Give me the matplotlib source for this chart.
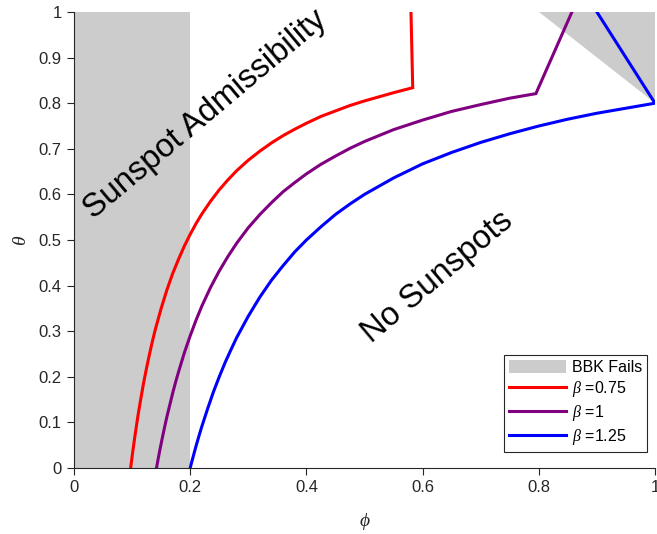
import matplotlib
matplotlib.use("Agg")
import matplotlib.pyplot as plt
from matplotlib.patches import Patch

plt.rcParams['font.family'] = ['Liberation Sans', 'DejaVu Sans']
plt.rcParams['mathtext.fontset'] = 'custom'
plt.rcParams['mathtext.it'] = 'Liberation Serif:italic'
plt.rcParams['mathtext.rm'] = 'Liberation Serif'

# Data
phi_red = [0.0975, 0.100, 0.103, 0.106, 0.11, 0.115, 0.12, 0.125, 0.13, 0.135,
           0.14, 0.15, 0.16, 0.17, 0.18, 0.19, 0.20, 0.21, 0.22, 0.235, 0.25,
           0.265, 0.28, 0.30, 0.32, 0.34, 0.36, 0.38, 0.40, 0.425, 0.45, 0.475,
           0.50, 0.525, 0.55, 0.583, 0.580]
theta_red = [0.0, 0.025, 0.053, 0.080, 0.114, 0.152, 0.188, 0.22, 0.25, 0.278,
             0.304, 0.35, 0.391, 0.427, 0.458, 0.487, 0.5125, 0.536, 0.557, 0.585,
             0.61, 0.632, 0.652, 0.675, 0.695, 0.713, 0.729, 0.743, 0.756, 0.771,
             0.783, 0.795, 0.805, 0.814, 0.823, 0.834, 1.0]

phi_purple = [0.142, 0.145, 0.148, 0.152, 0.156, 0.16, 0.165, 0.17, 0.175, 0.18,
              0.19, 0.20, 0.21, 0.22, 0.235, 0.25, 0.265, 0.28, 0.30, 0.32, 0.34,
              0.36, 0.38, 0.40, 0.425, 0.45, 0.475, 0.50, 0.55, 0.60, 0.65, 0.70,
              0.75, 0.795, 0.857]
theta_purple = [0.0, 0.021, 0.041, 0.066, 0.090, 0.113, 0.139, 0.165, 0.189, 0.211,
                0.253, 0.29, 0.324, 0.355, 0.396, 0.432, 0.464, 0.493, 0.527, 0.556,
                0.582, 0.606, 0.626, 0.645, 0.666, 0.684, 0.701, 0.716, 0.742,
                0.763, 0.782, 0.797, 0.811, 0.821, 1.0]

phi_blue = [0.20, 0.203, 0.206, 0.21, 0.215, 0.22, 0.23, 0.24, 0.25, 0.26, 0.27,
            0.28, 0.30, 0.32, 0.34, 0.36, 0.38, 0.40, 0.425, 0.45, 0.475, 0.50,
            0.55, 0.60, 0.65, 0.70, 0.75, 0.80, 0.85, 0.90, 0.95, 1.00, 0.90]
theta_blue = [0.0, 0.015, 0.029, 0.048, 0.070, 0.091, 0.130, 0.167, 0.2, 0.231,
              0.259, 0.286, 0.333, 0.375, 0.412, 0.444, 0.474, 0.5, 0.529, 0.556,
              0.579, 0.6, 0.636, 0.667, 0.692, 0.714, 0.733, 0.75, 0.765, 0.778,
              0.789, 0.8, 1.0]

fail_rect_x = [0.0, 0.2, 0.2, 0.0]
fail_rect_y = [0.0, 0.0, 1.0, 1.0]
fail_tri_x = [0.8, 1.0, 1.0]
fail_tri_y = [1.0, 1.0, 0.8]

labels = [r'$\beta$ =0.75', r'$\beta$ =1', r'$\beta$ =1.25']
colors = ['#ff0000', '#800080', '#0000ff']

fig = plt.figure(figsize=(6.57, 5.34), dpi=100)
ax = fig.add_axes([74/657, 1-468/534, 581/657, 456/534])

gray = '#cccccc'
ax.fill(fail_rect_x, fail_rect_y, color=gray, lw=0, zorder=1)
ax.fill(fail_tri_x, fail_tri_y, color=gray, lw=0, zorder=1)

lines = []
for (px, py), lab, c in zip([(phi_red, theta_red), (phi_purple, theta_purple),
                             (phi_blue, theta_blue)], labels, colors):
    l, = ax.plot(px, py, color=c, lw=2.2, label=lab, zorder=3,
                 solid_joinstyle='miter')
    lines.append(l)

ax.set_xlim(0, 1)
ax.set_ylim(0, 1)
ax.set_xticks([0, 0.2, 0.4, 0.6, 0.8, 1])
ax.set_xticklabels(['0', '0.2', '0.4', '0.6', '0.8', '1'])
ax.set_yticks([i/10 for i in range(11)])
ax.set_yticklabels(['0'] + [f'0.{i}' for i in range(1, 10)] + ['1'])

dark = '#262626'
for s in ['top', 'right']:
    ax.spines[s].set_visible(False)
for s in ['left', 'bottom']:
    ax.spines[s].set_color(dark)
    ax.spines[s].set_linewidth(0.8)
    ax.spines[s].set_zorder(4)
ax.tick_params(direction='out', length=5, width=0.8, colors=dark,
               labelsize=12, labelcolor=dark, pad=4)

ax.set_xlabel(r'$\phi$', fontsize=14, color=dark, labelpad=11)
ax.set_ylabel(r'$\theta$', fontsize=14, color=dark, labelpad=6)

ax.text(0.226, 0.776, 'Sunspot Admissibility', fontsize=23.5, rotation=40,
        ha='center', va='center', rotation_mode='anchor', color='black', zorder=5)
ax.text(0.625, 0.419, 'No Sunspots', fontsize=23.5, rotation=40,
        ha='center', va='center', rotation_mode='anchor', color='black', zorder=5)

handles = [Patch(facecolor=gray, edgecolor='none', label='BBK Fails')] + lines
leg = ax.legend(handles=handles, loc='lower right', bbox_to_anchor=(0.986, 0.035),
                borderaxespad=0, fontsize=11.5, fancybox=False, framealpha=1,
                edgecolor=dark, handlelength=3.6, handletextpad=0.35,
                labelspacing=0.25, borderpad=0.3, handleheight=0.85)
leg.get_frame().set_linewidth(0.8)
leg.set_zorder(6)

fig.savefig('out.png', dpi=100)
